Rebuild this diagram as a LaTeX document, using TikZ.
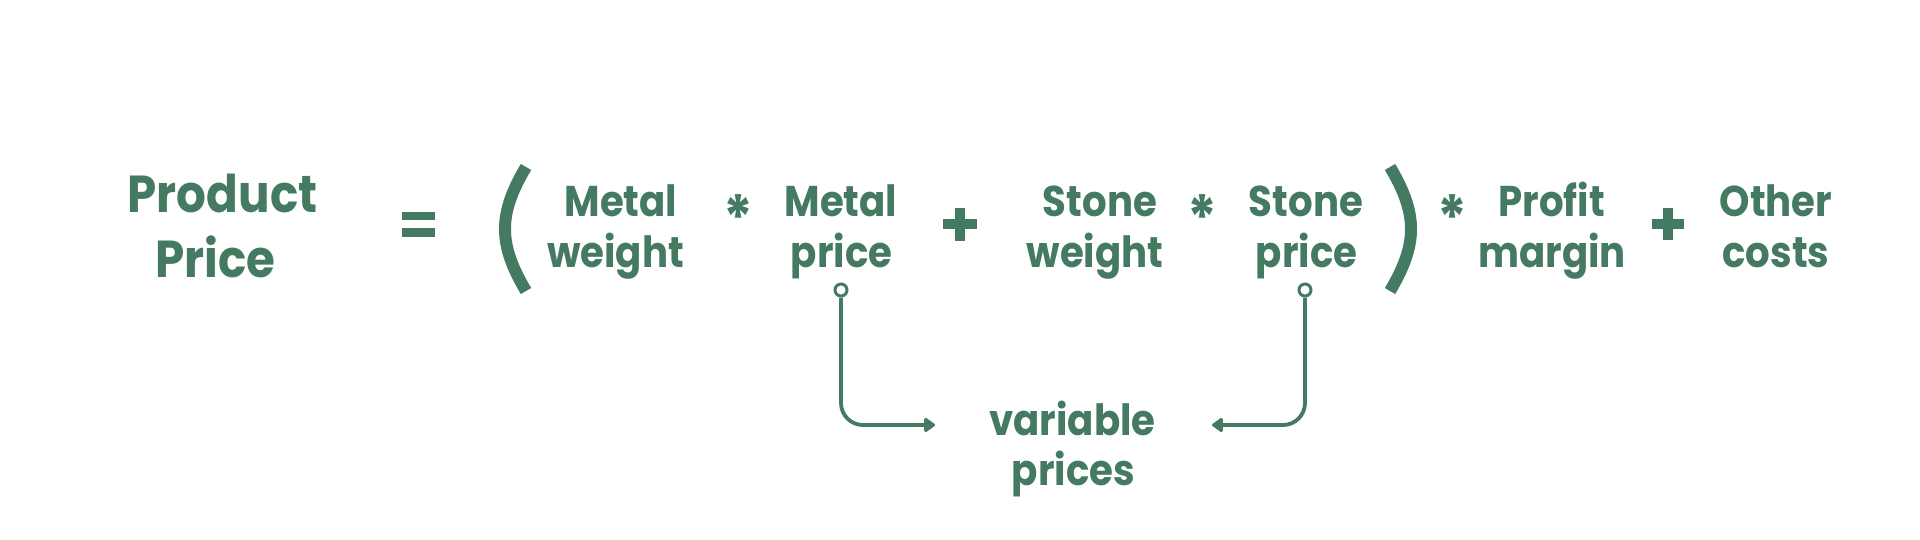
\documentclass[tikz,border=0pt]{standalone}
\usepackage{fontspec}
\newfontfamily\eqfont{Poppins}[FakeStretch=0.9]
\usetikzlibrary{arrows.meta}
\definecolor{eqgreen}{RGB}{67,122,97}
\begin{document}
\begin{tikzpicture}[x=1pt,y=-1pt,
  term/.style={anchor=base, inner sep=0pt, text=eqgreen,
    font=\eqfont\bfseries\fontsize{43}{43}\selectfont},
  bigterm/.style={term, font=\eqfont\bfseries\fontsize{52}{52}\selectfont},
  opstar/.style={anchor=base, inner sep=0pt, text=eqgreen,
    font=\eqfont\bfseries\fontsize{62}{62}\selectfont},
  paren/.style={draw=eqgreen, line width=12pt},
  marker/.style={circle, draw=eqgreen, fill=white, line width=3pt,
    minimum size=12pt, inner sep=0pt},
  conn/.style={draw=eqgreen, line width=3.8pt, rounded corners=22pt,
    -{Triangle[length=12pt,width=16pt,round]}}
]
\fill[white] (0,0) rectangle (1920,540);
\useasboundingbox (0,0) rectangle (1920,540);

% left-hand side
\node[bigterm] (product) at (222.5,213) {Product};
\node[bigterm] (price0)  at (215.5,277) {Price};

% equals sign
\fill[eqgreen] (402,212) rectangle (435,220.5);
\fill[eqgreen] (402,228.5) rectangle (435,237);

% parentheses
\draw[paren] (526,167) .. controls (498,214) and (498,244) .. (526,291);
\draw[paren] (1390,167) .. controls (1418,214) and (1418,244) .. (1390,291);

% terms
\node[term] (metal1) at (621,217) {Metal};
\node[term] (weight1) at (615.5,268) {weight};
\node[opstar] (star1) at (738.5,241) {*};
\node[term] (metal2) at (841,217) {Metal};
\node[term] (mprice) at (841.5,268) {price};

\fill[eqgreen] (943,219.5) rectangle (977,229.5);
\fill[eqgreen] (955,208) rectangle (965,241);

\node[term] (stone1) at (1100,217) {Stone};
\node[term] (weight2) at (1095,268) {weight};
\node[opstar] (star2) at (1202.5,241) {*};
\node[term] (stone2) at (1306,217) {Stone};
\node[term] (sprice) at (1306.5,268) {price};

\node[opstar] (star3) at (1452,241) {*};
\node[term] (profit) at (1551.5,217) {Profit};
\node[term] (margin) at (1552,268) {margin};

\fill[eqgreen] (1652,219) rectangle (1684,229);
\fill[eqgreen] (1663,208) rectangle (1673,240);

\node[term] (other) at (1776,217) {Other};
\node[term] (costs) at (1776,268) {costs};

% variable prices
\node[term] (variable) at (1072.5,435) {variable};
\node[term] (prices) at (1073.5,485) {prices};

% connectors
\node[marker] (m1) at (841,290) {};
\node[marker] (m2) at (1305,290) {};
\coordinate (t1) at (935,425);
\coordinate (t2) at (1212,425);
\draw[conn] (m1.south) |- (t1);
\draw[conn] (m2.south) |- (t2);
\end{tikzpicture}
\end{document}
